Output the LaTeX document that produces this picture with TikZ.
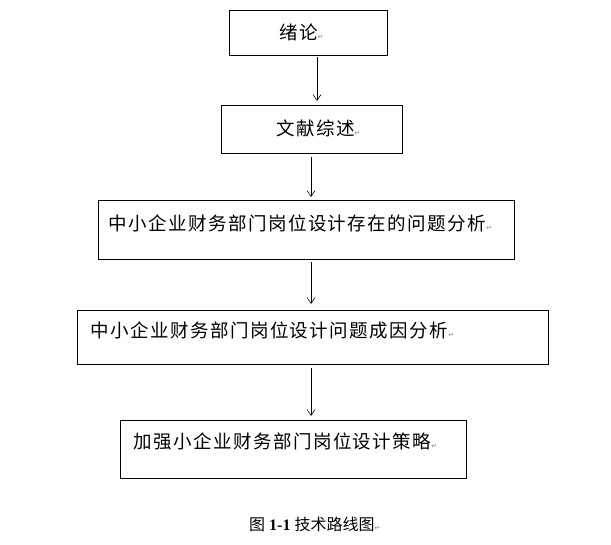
\documentclass[tikz,border=0pt]{standalone}
\usepackage{fontspec}
\setmainfont{Liberation Serif}
\newfontfamily\cjk{Noto Sans CJK SC}
\newfontfamily\cjksp[LetterSpace=8]{Noto Sans CJK SC}
\newfontfamily\sym{DejaVu Sans}
\usetikzlibrary{arrows.meta}
\newcommand{\parmark}{{\sym\fontsize{7}{7}\selectfont\color{gray}↵}}
\tikzset{box/.style={draw,thick,inner sep=0pt},
 lbl/.style={anchor=west,font=\cjksp\fontsize{18.5}{20}\selectfont,inner sep=0pt},
 arr/.style={-{Straight Barb[length=6pt,width=8pt]},semithick}}
\begin{document}
\begin{tikzpicture}[x=1pt,y=-1pt]
\useasboundingbox (0,0) rectangle (611,545);
\fill[white] (0,0) rectangle (611,545);
\draw[box] (229,10) rectangle (387,55); \coordinate (b1s) at (317,57); \coordinate (b2n) at (317,101);
\node[lbl] (t1) at (279,32) {绪论\parmark};
\draw[box] (221,105) rectangle (402,153);
\node[lbl] (t2) at (276,128) {文献综述\parmark};
\draw[box] (98,200) rectangle (514,259);
\node[lbl] (t3) at (108,223) {中小企业财务部门岗位设计存在的问题分析\parmark};
\draw[box] (77,310) rectangle (548,364);
\node[lbl] (t4) at (90,330) {中小企业财务部门岗位设计问题成因分析\parmark};
\draw[box] (120,420) rectangle (466,478);
\node[lbl] (t5) at (133,441) {加强小企业财务部门岗位设计策略\parmark};
\coordinate (a2s) at (311,157); \coordinate (a2e) at (311,197);
\coordinate (a3s) at (311,262); \coordinate (a3e) at (311,304);
\coordinate (a4s) at (311,368); \coordinate (a4e) at (311,416);
\draw[arr] (b1s) -- (b2n);
\draw[arr] (a2s) -- (a2e);
\draw[arr] (a3s) -- (a3e);
\draw[arr] (a4s) -- (a4e);
\node[anchor=west,inner sep=0pt,font=\fontsize{16}{18}\selectfont] (cap) at (249,524) {{\cjk 图} \textbf{1-1} {\cjk 技术路线图}\parmark};
\end{tikzpicture}
\end{document}
